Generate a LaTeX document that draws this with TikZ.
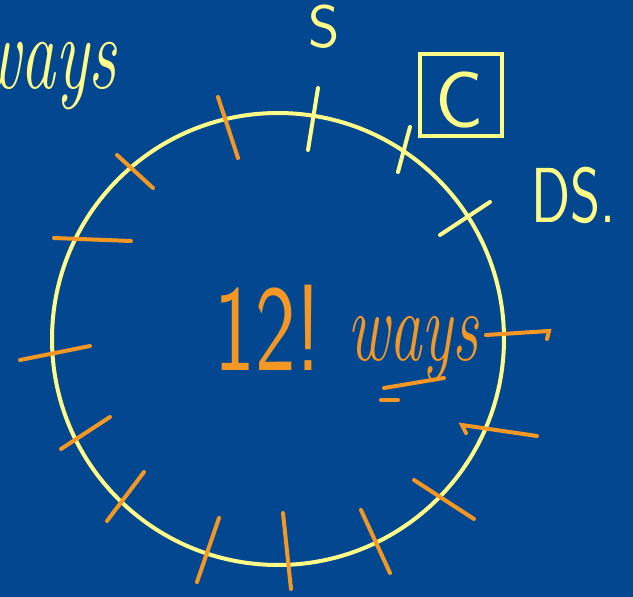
\documentclass[tikz,border=0pt]{standalone}
\usepackage{fontspec}
\usepackage{graphicx}
\definecolor{bgblue}{RGB}{4,71,145}
\definecolor{chalkyellow}{RGB}{255,252,135}
\definecolor{chalkorange}{RGB}{245,152,35}
\tikzset{
  ystroke/.style={draw=chalkyellow,line width=4pt,line cap=round},
  ostroke/.style={draw=chalkorange,line width=4pt,line cap=round},
  ytext/.style={text=chalkyellow,inner sep=0pt},
  otext/.style={text=chalkorange,inner sep=0pt}
}
\begin{document}
\begin{tikzpicture}[x=1pt,y=-1pt]
\fill[bgblue] (0,0) rectangle (633,597);
\useasboundingbox (0,0) rectangle (633,597);
\begin{scope}
\clip (0,0) rectangle (633,597);
% circle
\draw[chalkyellow,line width=4pt] (278,339) circle[radius=226];
% yellow ticks
\draw[ystroke] (318,88) -- (308,150);
\draw[ystroke] (410,127) -- (398,172);
\draw[ystroke] (490,202) -- (440,235);
% orange ticks
\draw[ostroke] (218,97) -- (238,158);
\draw[ostroke] (117,155) -- (153,188);
\draw[ostroke] (54,238) -- (131,241);
\draw[ostroke] (20,360) -- (90,346);
\draw[ostroke] (61,449) -- (110,417);
\draw[ostroke] (107,521) -- (144,472);
\draw[ostroke] (197,582) -- (219,518);
\draw[ostroke] (291,589) -- (283,513);
\draw[ostroke] (390,573) -- (361,510);
\draw[ostroke] (474,519) -- (414,480);
\draw[ostroke] (466,433) -- (462,425) -- (537,436);
\draw[ostroke] (486,335) -- (549,331) -- (547,339);
% underline strokes
\draw[ostroke] (384,388) -- (444,378);
\draw[ostroke] (381,400) -- (398,400);
% texts
\node[ytext,anchor=base] (s) at (324,48) {\fontsize{60}{60}\selectfont\sffamily S};
\node[ytext,anchor=base] (c) at (460,127) {\fontsize{80}{80}\selectfont\sffamily C};
\node[draw=chalkyellow,line width=4pt,minimum width=82pt,minimum height=82pt] (cbox) at (461,95) {};
\node[ytext,anchor=base west] (ds) at (531,222) {\scalebox{0.74}[1]{\fontsize{78}{78}\selectfont\sffamily DS.}};
\node[ytext,anchor=base east] (ways1) at (117,88) {\scalebox{1}[1.5]{\fontsize{70}{70}\selectfont\itshape ways}};
\node[otext,anchor=base] (num) at (268,370) {\scalebox{0.7}[1]{\fontsize{123}{123}\selectfont\sffamily 12!}};
\node[otext,anchor=base west] (ways2) at (347,360) {\scalebox{0.65}[1]{\fontsize{100}{100}\selectfont\itshape ways}};
\end{scope}
\end{tikzpicture}
\end{document}
